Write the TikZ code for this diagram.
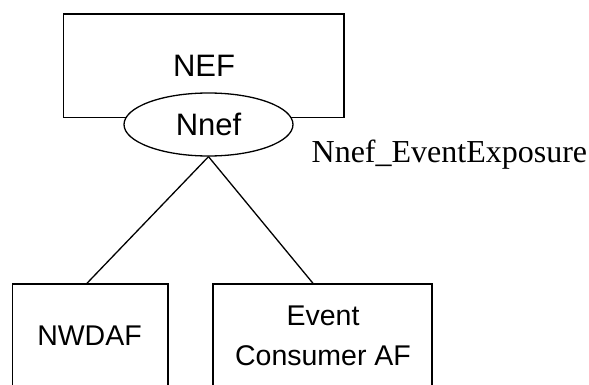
\documentclass[tikz,border=0pt]{standalone}
\usepackage{fontspec}
\setmainfont{Liberation Serif}
\setsansfont{Liberation Sans}
\usetikzlibrary{shapes.geometric,calc}
\begin{document}
\begin{tikzpicture}[x=1pt,y=-1pt,
  line width=1.3pt,
  box/.style={draw,rectangle,inner sep=0pt},
  sanstext/.style={font=\sffamily\fontsize{#1}{40}\selectfont,inner sep=0pt,align=center},
  conn/.style={draw}]
\useasboundingbox (0,0) rectangle (589,385);
\clip (0,0) rectangle (589,385);
% NEF box
\node[box,minimum width=280.5pt,minimum height=103.7pt] (nef) at (203.75,65.85) {};
\node[sanstext=31] (neftxt) at (204,65.9) {NEF};
% service interface ellipse
\node[draw,ellipse,fill=white,inner sep=0pt,minimum width=169pt,minimum height=63pt,
      font=\sffamily\fontsize{31}{36}\selectfont] (nnef) at (208.5,124.5) {Nnef};
% label
\node[anchor=base west,inner sep=0pt,font=\fontsize{32}{38}\selectfont] (lbl) at (311,163) {Nnef\_EventExposure};
% lower boxes (extend beyond bottom edge)
\node[box,minimum width=155.3pt,minimum height=140pt] (nwdaf) at (90.35,354) {};
\node[sanstext=28.5] (nwdaftxt) at (89.5,336) {NWDAF};
\node[box,minimum width=219pt,minimum height=140pt] (ecaf) at (322.5,354) {};
\node[sanstext=28.5] (ecaftxt) at (323,336) {Event\\Consumer AF};
% connectors
\coordinate (a) at ($(nwdaf.north west)!0.478!(nwdaf.north east)$);
\coordinate (b) at ($(ecaf.north west)!0.457!(ecaf.north east)$);
\draw[conn] (nnef.south) -- (a);
\draw[conn] (nnef.south) -- (b);
\end{tikzpicture}
\end{document}
